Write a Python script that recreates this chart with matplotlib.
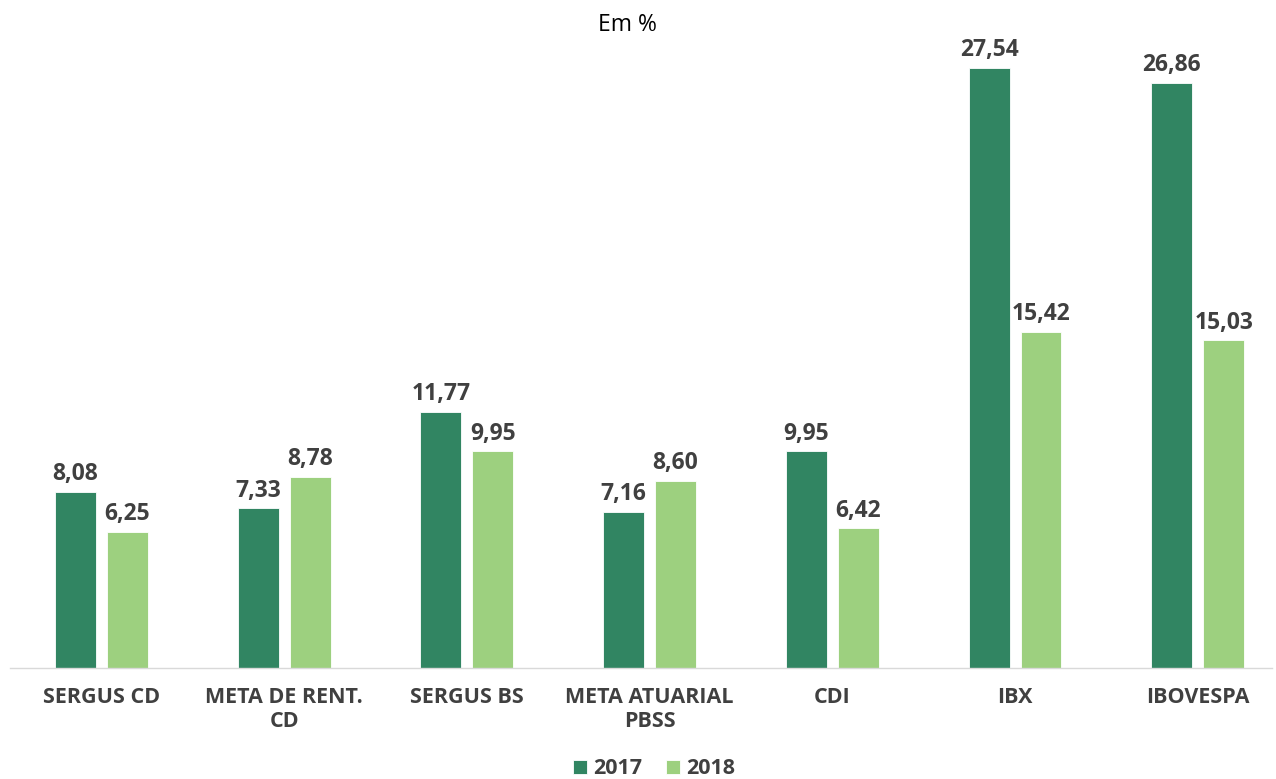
import matplotlib

matplotlib.use("Agg")
import matplotlib.pyplot as plt  # noqa: E402
import numpy as np  # noqa: E402

plt.rcParams["font.family"] = ["Open Sans", "DejaVu Sans"]

categories = ["SERGUS CD", "META DE RENT.\nCD", "SERGUS BS", "META ATUARIAL\nPBSS",
              "CDI", "IBX", "IBOVESPA"]
values_2017 = [8.08, 7.33, 11.77, 7.16, 9.95, 27.54, 26.86]
values_2018 = [6.25, 8.78, 9.95, 8.60, 6.42, 15.42, 15.03]
series_names = ["2017", "2018"]

DARK = "#318562"
LIGHT = "#9dd07f"
TEXT = "#404040"

W, H = 1276, 779
fig = plt.figure(figsize=(W / 100, H / 100), dpi=100)
# axes placed in pixel terms: left 10, right 1272, bottom 668, top 40
ax = fig.add_axes([10 / W, (H - 668) / H, (1272 - 10) / W, (668 - 40) / H])

x = np.arange(len(categories))
bw = 0.224
off = 0.142
b1 = ax.bar(x - off, values_2017, width=bw, color=DARK, edgecolor="white",
            linewidth=0.6, label=series_names[0])
b2 = ax.bar(x + off, values_2018, width=bw, color=LIGHT, edgecolor="white",
            linewidth=0.6, label=series_names[1])

for bars, vals in ((b1, values_2017), (b2, values_2018)):
    for rect, v in zip(bars, vals):
        ax.annotate(f"{v:.2f}".replace(".", ","),
                    (rect.get_x() + rect.get_width() / 2, rect.get_height()),
                    xytext=(0, 4), textcoords="offset points",
                    ha="center", va="bottom", fontsize=16.5, fontweight="bold",
                    color=TEXT)

ax.set_xlim(-0.5, 6.406)
ax.set_ylim(0, 28.82)
ax.set_xticks(x)
ax.set_xticklabels(categories, fontsize=15.5, fontweight="bold", color=TEXT,
                   linespacing=1.15)
ax.tick_params(axis="x", length=0, pad=14)
ax.set_yticks([])
for side in ("top", "right", "left"):
    ax.spines[side].set_visible(False)
ax.spines["bottom"].set_color("#d9d9d9")
ax.spines["bottom"].set_linewidth(1.0)

fig.text(627 / W, 1 - 25 / H, "Em %", ha="center", va="center", fontsize=16.5,
         color="black")

leg = fig.legend(handles=[b1, b2], loc="center", bbox_to_anchor=(654 / W, 1 - 769 / H),
                 ncol=2, frameon=False, handlelength=0.65, handleheight=0.65,
                 handletextpad=0.3, columnspacing=1.1,
                 prop={"size": 15.5, "weight": "bold"})
for t in leg.get_texts():
    t.set_color(TEXT)

fig.savefig("out.png", dpi=100)
